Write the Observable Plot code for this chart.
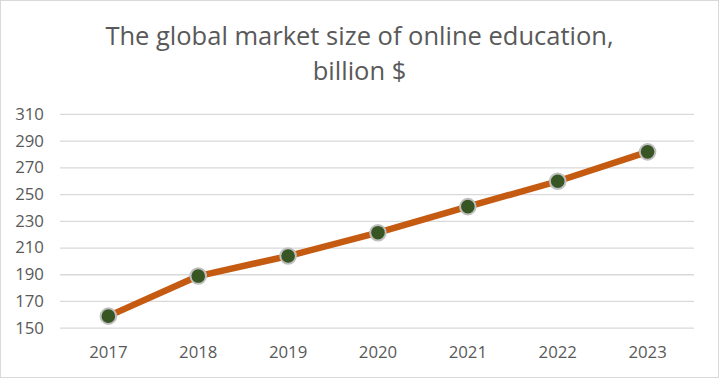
<!DOCTYPE html>
<html><head><meta charset="utf-8">
<script src="https://cdn.jsdelivr.net/npm/d3@7"></script>
<script src="https://cdn.jsdelivr.net/npm/@observablehq/plot@0.6"></script>
<style>
html,body{margin:0;padding:0;background:#fff;}
#frame{position:relative;width:719px;height:378px;box-sizing:border-box;border:1px solid #d9d9d9;overflow:hidden;font-family:"Open Sans",sans-serif;}
#title{position:absolute;left:0;right:0;top:17px;text-align:center;font-size:25.5px;line-height:35px;color:#595959;}
#chart{position:absolute;left:-1px;top:94px;}
</style></head><body>
<div id="frame"><div id="title">The global market size of online education,<br>billion $</div><div id="chart"></div></div>
<script>
const years = ["2017", "2018", "2019", "2020", "2021", "2022", "2023"];
const values = [159, 189, 204, 221.5, 241, 260, 282];
const yTicks = [150, 170, 190, 210, 230, 250, 270, 290, 310];
const data = years.map((y, i) => ({year: y, value: values[i]}));
const chart = Plot.plot({
  width: 719, height: 283,
  marginLeft: 60, marginRight: 24, marginTop: 19, marginBottom: 50,
  style: {fontFamily: "'Open Sans', sans-serif", fontSize: "16.8px", color: "#595959", background: "transparent"},
  x: {type: "point", domain: years, padding: 0.5, label: null, tickSize: 0, tickPadding: 17.5},
  y: {domain: [150, 310], ticks: yTicks, label: null, tickSize: 0, tickPadding: 16.5},
  marks: [
    Plot.ruleY(yTicks, {stroke: "#d9d9d9", strokeWidth: 1.3}),
    Plot.line(data, {x: "year", y: "value", stroke: "#C55A11", strokeWidth: 6.5}),
    Plot.dot(data, {x: "year", y: "value", r: 7.8, fill: "#375623", stroke: "#BFBFBF", strokeWidth: 2})
  ]
});
document.getElementById("chart").appendChild(chart);
</script>
</body></html>
